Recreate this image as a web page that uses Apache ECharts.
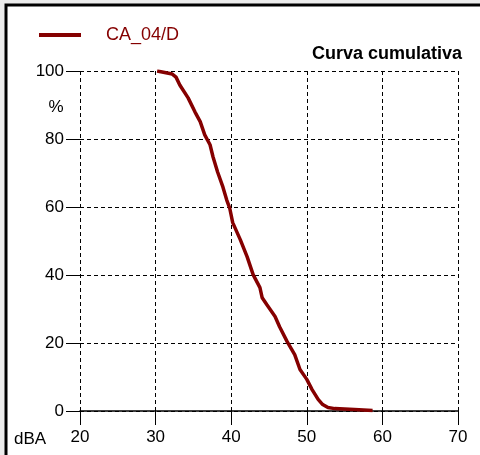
<!DOCTYPE html>
<html>
<head>
<meta charset="utf-8">
<script src="https://cdn.jsdelivr.net/npm/echarts@6/dist/echarts.min.js"></script>
<style>
  html, body { margin: 0; padding: 0; background: #ececec; }
  #chart { width: 480px; height: 455px; }
</style>
</head>
<body>
<div id="chart"></div>
<script>
// Cumulative level distribution for station CA_04/D
const seriesName = 'CA_04/D';
const chartTitle = 'Curva cumulativa';
const xUnit = 'dBA';
const yUnit = '%';

// Sound level (dBA) and percentage of time exceeded
const levels = [30.2, 32.2, 32.7, 33.2, 34.3, 35.2, 35.9, 36.5, 37.2, 37.6, 38.2, 38.9, 39.4, 39.8, 40.2, 41.2, 42.1, 42.9, 43.8, 44.1, 44.7, 45.8, 46.4, 47.4, 48.4, 49.1, 50.0, 50.7, 51.5, 52.1, 52.8, 53.7, 56.3, 58.7];
const percents = [100, 99.1, 98.2, 95.9, 92.1, 88.0, 85.1, 81.2, 78.3, 74.7, 70.3, 65.9, 62.1, 59.7, 55.4, 50.4, 45.4, 40.1, 36.3, 33.3, 31.3, 27.8, 24.8, 20.4, 16.6, 12.2, 9.3, 6.3, 3.4, 1.9, 1.0, 0.7, 0.45, 0.15];

const xMin = 20, xMax = 70, xStep = 10;
const yMin = 0, yMax = 100, yStep = 20;

const lineColor = '#850000';
const font = 'Liberation Sans, Arial, sans-serif';

const chart = echarts.init(document.getElementById('chart'), null, { renderer: 'canvas' });

const points = levels.map((v, i) => [v, percents[i]]);

chart.setOption({
  backgroundColor: 'transparent',
  animation: false,
  grid: { left: 80, top: 71, width: 378, height: 340, containLabel: false },
  legend: {
    left: 34, top: 21,
    itemWidth: 42, itemHeight: 4, itemGap: 0,
    icon: 'rect',
    data: [seriesName],
    textStyle: { color: lineColor, fontFamily: font, fontSize: 18, padding: [0, 0, 0, 20] }
  },
  xAxis: {
    type: 'value', min: xMin, max: xMax, interval: xStep,
    axisLine: { show: true, lineStyle: { color: '#000', width: 1.5 } },
    axisTick: { show: true, length: 14, lineStyle: { color: '#000', width: 1 } },
    axisLabel: { color: '#000', fontFamily: font, fontSize: 17, margin: 18 },
    splitLine: { show: true, lineStyle: { color: '#000', width: 1, type: [4, 3] } }
  },
  yAxis: {
    type: 'value', min: yMin, max: yMax, interval: yStep,
    axisLine: { show: false },
    axisTick: { show: true, length: 14, lineStyle: { color: '#000', width: 1 } },
    axisLabel: { color: '#000', fontFamily: font, fontSize: 17, margin: 16 },
    splitLine: { show: true, lineStyle: { color: '#000', width: 1, type: [4, 3] } }
  },
  graphic: [
    {
      type: 'rect', z: -10, silent: true,
      shape: { x: 6, y: 5, width: 500, height: 480 },
      style: { fill: '#fff', stroke: '#000', lineWidth: 3 }
    },
    {
      type: 'text', right: 18, top: 45,
      style: { text: chartTitle, fill: '#000', font: 'bold 18px ' + font }
    },
    {
      type: 'text', x: 56, y: 107,
      style: { text: yUnit, fill: '#000', font: '17px ' + font, align: 'center', verticalAlign: 'middle' }
    },
    {
      type: 'text', x: 14, y: 439,
      style: { text: xUnit, fill: '#000', font: '17px ' + font, align: 'left', verticalAlign: 'middle' }
    }
  ],
  series: [{
    name: seriesName,
    type: 'line',
    data: points,
    showSymbol: false,
    smooth: false,
    lineStyle: { color: lineColor, width: 3.5 },
    itemStyle: { color: lineColor }
  }]
});
</script>
</body>
</html>
